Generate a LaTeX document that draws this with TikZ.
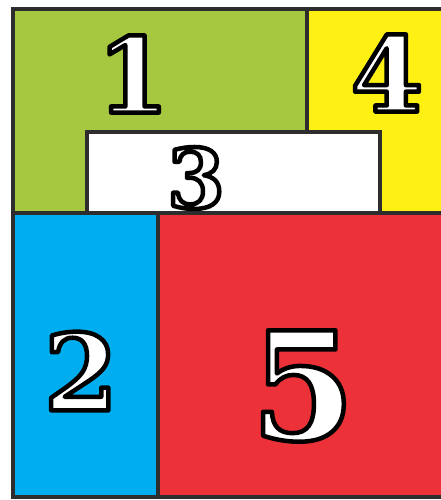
\documentclass[tikz,border=0pt]{standalone}
\usepackage{fontspec}
\newfontfamily\digitfont{DejaVu Serif}
\definecolor{cgreen}{RGB}{166,200,64}
\definecolor{cyellow}{RGB}{255,240,20}
\definecolor{cblue}{RGB}{0,174,239}
\definecolor{cred}{RGB}{236,50,56}
\definecolor{cline}{RGB}{45,45,45}
\newcommand\outlinedtext[1]{\special{pdf:literal direct q 2 Tr 4.5 w 1 j 0 0 0 RG}#1\special{pdf:literal direct Q}}
\tikzset{
  region/.style={draw=cline, line width=3.5pt, line join=miter},
  digit/.style={inner sep=0pt, outer sep=0pt, font=\digitfont\bfseries, text=white},
}
\begin{document}
\begin{tikzpicture}[x=1pt, y=-1pt]
  \fill[white] (0,0) rectangle (441,500);
  \useasboundingbox (0,0) rectangle (441,500);
  \clip (0,0) rectangle (441,500);
  % fills
  \fill[cgreen] (13,9) rectangle (307,213);
  \fill[cyellow] (307,9) rectangle (460,213);
  \fill[cblue] (13,213) rectangle (158,497);
  \fill[cred] (158,213) rectangle (460,497);
  \filldraw[fill=white, region] (87,132) rectangle (380,213);
  % lines
  \draw[region] (13,9) rectangle (460,497);
  \draw[region] (307,9) -- (307,132);
  \draw[region] (13,213) -- (460,213);
  \draw[region] (158,213) -- (158,497);
  % digits
  \node[digit] (d1) at (133,74) {\fontsize{104}{104}\selectfont\outlinedtext{1}};
  \node[digit] (d4) at (387,73) {\fontsize{104}{104}\selectfont\outlinedtext{4}};
  \node[digit] (d3) at (196,178) {\fontsize{82}{82}\selectfont\outlinedtext{3}};
  \node[digit] (d2) at (81,371) {\fontsize{106}{106}\selectfont\outlinedtext{2}};
  \node[digit] (d5) at (303,386) {\fontsize{150}{150}\selectfont\outlinedtext{5}};
\end{tikzpicture}
\end{document}
